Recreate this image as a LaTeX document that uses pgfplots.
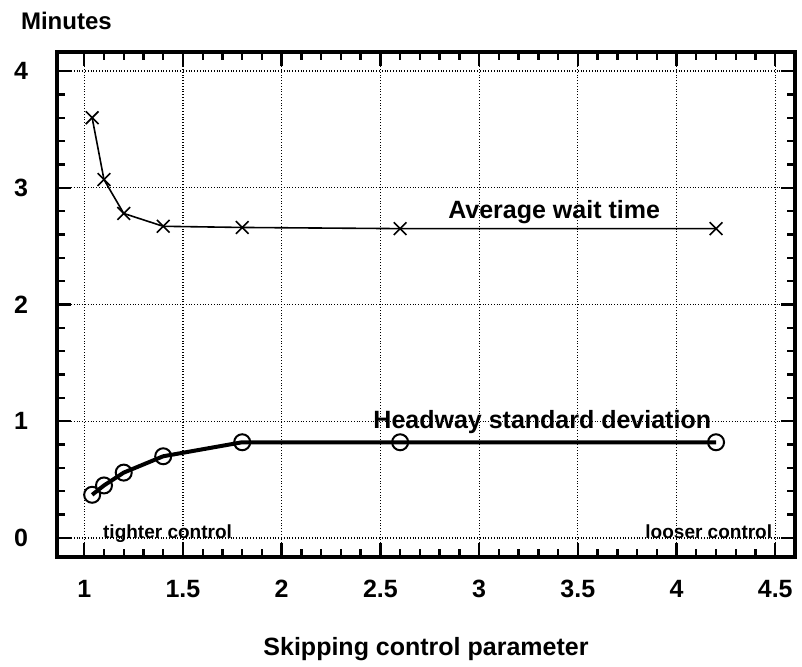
\documentclass[border=0pt]{standalone}
\usepackage{fontspec}
\setmainfont{Liberation Sans}
\usepackage{pgfplots}
\pgfplotsset{compat=1.18}
\begin{document}
\begin{tikzpicture}
% page size: 802x666 px at 0.5pt per px, axis box lower left at the origin
\path[use as bounding box] (-28.5pt,-54.5pt) rectangle (372.5pt,278.5pt);
\begin{axis}[
  at={(0,0)}, anchor=south west,
  scale only axis, width=369pt, height=252.5pt,
  xmin=0.862, xmax=4.60, ymin=-0.163, ymax=4.163,
  xtick={1,1.5,2,2.5,3,3.5,4,4.5}, ytick={0,1,2,3,4},
  minor x tick num=4, minor y tick num=4,
  tick align=inside, major tick length=7pt, minor tick length=4pt,
  tick style={black, line width=1.2pt},
  axis line style={line width=2pt},
  grid=major, major grid style={densely dotted, black, line width=0.6pt},
  tick label style={font=\bfseries\fontsize{12.5}{14}\selectfont},
  /pgf/number format/assume math mode=true,
  xticklabel style={yshift=-8pt},
  yticklabel style={xshift=-11pt},
  xlabel={Skipping control parameter},
  xlabel style={at={(axis description cs:0.5,0)}, anchor=base, yshift=-49pt,
    font=\bfseries\fontsize{12.5}{14}\selectfont},
  clip=false,
]
% average wait time
\addplot[black, line width=0.8pt, mark=x, mark size=4.5pt,
  mark options={line width=0.8pt}] coordinates {
  (1.04,3.60) (1.10,3.07) (1.20,2.78) (1.40,2.67) (1.80,2.66) (2.60,2.65) (4.20,2.65)
};
% headway standard deviation
\addplot[black, line width=2pt, mark=o, mark size=4pt,
  mark options={line width=1pt, fill=white}] coordinates {
  (1.04,0.37) (1.10,0.45) (1.20,0.56) (1.40,0.70) (1.80,0.82) (2.60,0.82) (4.20,0.82)
};
\node[font=\bfseries\fontsize{12.5}{14}\selectfont] at (axis cs:3.38,2.79) {Average wait time};
\node[font=\bfseries\fontsize{12.5}{14}\selectfont] at (axis cs:3.32,0.99) {Headway standard deviation};
\node[font=\bfseries\fontsize{9.5}{11}\selectfont, anchor=west] at (axis cs:1.06,0.04) {tighter control};
\node[font=\bfseries\fontsize{9.5}{11}\selectfont, anchor=east] at (axis cs:4.52,0.05) {looser control};
\node[font=\bfseries\fontsize{12}{14}\selectfont, anchor=base west]
  at ([shift={(-21.5pt,11.3pt)}]rel axis cs:0,1) {Minutes};
\end{axis}
\end{tikzpicture}
\end{document}
